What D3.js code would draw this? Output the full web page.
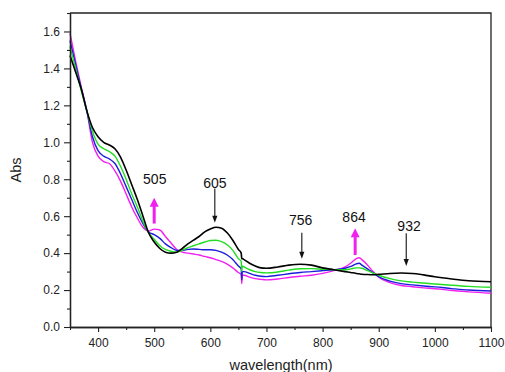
<!DOCTYPE html>
<html>
<head>
<meta charset="utf-8">
<script src="https://cdn.jsdelivr.net/npm/d3@7"></script>
<style>
  html, body { margin: 0; padding: 0; background: #fff; }
  svg { display: block; font-family: "Liberation Sans", Arial, sans-serif; }
</style>
</head>
<body>
<svg id="chart" width="505" height="372"></svg>
<script>
// ---- data ----
const wavelength = [350,360,370,380,390,400,410,420,430,440,450,460,470,480,490,500,510,520,530,540,550,560,570,580,590,600,610,620,630,640,650,655,656,657,660,670,680,690,700,720,740,760,780,800,820,840,850,860,865,870,880,890,900,920,940,960,980,1000,1030,1060,1100];

const absBlack = [1.47,1.38,1.29,1.17,1.08,1.03,1.00,0.985,0.965,0.92,0.85,0.77,0.69,0.60,0.51,0.46,0.425,0.405,0.40,0.405,0.425,0.45,0.47,0.49,0.515,0.53,0.54,0.535,0.51,0.47,0.42,0.40,0.37,0.37,0.365,0.345,0.33,0.32,0.318,0.325,0.335,0.34,0.335,0.32,0.31,0.30,0.295,0.29,0.288,0.286,0.284,0.283,0.285,0.29,0.292,0.29,0.282,0.272,0.26,0.25,0.245];

const absGreen = [1.52,1.40,1.28,1.17,1.06,0.99,0.965,0.95,0.925,0.87,0.80,0.72,0.65,0.57,0.51,0.475,0.44,0.42,0.41,0.405,0.415,0.43,0.44,0.45,0.46,0.468,0.47,0.462,0.445,0.415,0.37,0.355,0.30,0.33,0.325,0.31,0.30,0.295,0.293,0.298,0.308,0.315,0.316,0.313,0.31,0.31,0.315,0.32,0.32,0.318,0.305,0.292,0.28,0.262,0.25,0.243,0.238,0.233,0.226,0.22,0.215];

const absBlue = [1.55,1.42,1.29,1.17,1.03,0.955,0.925,0.91,0.885,0.83,0.76,0.69,0.62,0.56,0.515,0.50,0.48,0.45,0.43,0.415,0.415,0.42,0.422,0.42,0.418,0.418,0.415,0.405,0.39,0.365,0.33,0.315,0.255,0.30,0.30,0.29,0.28,0.275,0.273,0.28,0.288,0.295,0.30,0.305,0.31,0.318,0.328,0.342,0.345,0.335,0.315,0.293,0.272,0.248,0.235,0.228,0.222,0.217,0.208,0.20,0.195];

const absMagenta = [1.59,1.44,1.30,1.17,1.00,0.925,0.895,0.885,0.845,0.79,0.72,0.65,0.59,0.54,0.52,0.53,0.525,0.49,0.455,0.42,0.405,0.40,0.395,0.39,0.382,0.375,0.365,0.355,0.34,0.32,0.295,0.285,0.235,0.28,0.28,0.27,0.262,0.258,0.255,0.26,0.268,0.275,0.28,0.29,0.305,0.325,0.345,0.37,0.375,0.365,0.335,0.30,0.27,0.24,0.225,0.218,0.212,0.207,0.198,0.19,0.183];

const seriesNames = ["magenta","blue","green","black"];
const seriesValues = [absMagenta, absBlue, absGreen, absBlack];
const seriesColors = ["#f020f0","#1c1cdc","#22dd22","#000000"];

const xTicks = [400,500,600,700,800,900,1000,1100];
const xMinorTicks = [350,450,550,650,750,850,950,1050];
const yTicks = [0,0.2,0.4,0.6,0.8,1.0,1.2,1.4,1.6];
const yMinorTicks = [0.1,0.3,0.5,0.7,0.9,1.1,1.3,1.5,1.7];

// annotations: label, label position (nm, abs), arrow from/to abs at nm, type
const annLabels = ["505","605","756","864","932"];
const annTextWl = [501,608,761,856,954];
const annTextAbs = [0.80,0.78,0.58,0.594,0.545];
const annArrowWl = [500,608,763,858,949];
const annArrowFrom = [0.56,0.75,0.51,0.39,0.507];
const annArrowTo = [0.70,0.565,0.37,0.535,0.33];
const annColor = ["magenta","black","black","magenta","black"];

// ---- chart ----
const W = 505, H = 372;
const margin = {left: 70, right: 14, top: 13, bottom: 45};
const svg = d3.select("#chart");

const x = d3.scaleLinear().domain([350, 1100]).range([margin.left, W - margin.right]);
const y = d3.scaleLinear().domain([0, 1.7]).range([H - margin.bottom, margin.top]);

// frame (top & right)
svg.append("path")
  .attr("d", `M${x(350)},${y(1.7)}H${x(1100)}V${y(0)}`)
  .attr("fill", "none").attr("stroke", "#222").attr("stroke-width", 1.3);

// curves
const line = d3.line().x((d, i) => x(wavelength[i])).y(d => y(d)).curve(d3.curveMonotoneX);
svg.append("g").selectAll("path").data(seriesValues).join("path")
  .attr("d", d => line(d))
  .attr("fill", "none")
  .attr("stroke", (d, i) => seriesColors[i])
  .attr("stroke-width", (d, i) => i === 3 ? 1.6 : 1.4)
  .attr("stroke-linejoin", "round");

// axes
const axisStyle = g => {
  g.selectAll(".domain").attr("stroke", "#222").attr("stroke-width", 1.3);
  g.selectAll(".tick line").attr("stroke", "#222").attr("stroke-width", 1.1);
  g.selectAll("text").attr("font-size", 12).attr("fill", "#222")
    .attr("font-family", "'Liberation Sans', Arial, sans-serif");
};

svg.append("g").attr("transform", `translate(0,${y(0)})`)
  .call(d3.axisBottom(x).tickValues(xMinorTicks).tickSize(3).tickSizeOuter(0).tickFormat(""))
  .call(axisStyle);
svg.append("g").attr("transform", `translate(0,${y(0)})`)
  .call(d3.axisBottom(x).tickValues(xTicks).tickSize(5).tickSizeOuter(0).tickPadding(6).tickFormat(d3.format("d")))
  .call(axisStyle);

svg.append("g").attr("transform", `translate(${x(350)},0)`)
  .call(d3.axisLeft(y).tickValues(yMinorTicks).tickSize(3).tickSizeOuter(0).tickFormat(""))
  .call(axisStyle);
svg.append("g").attr("transform", `translate(${x(350)},0)`)
  .call(d3.axisLeft(y).tickValues(yTicks).tickSize(6).tickSizeOuter(0).tickPadding(4).tickFormat(d3.format(".1f")))
  .call(axisStyle);

// axis titles
svg.append("text")
  .attr("x", (x(350) + x(1100)) / 2 + 0.5).attr("y", 370)
  .attr("text-anchor", "middle").attr("font-size", 14.5).attr("fill", "#222")
  .text("wavelength(nm)");
svg.append("text")
  .attr("transform", `translate(21,${y(0.85)}) rotate(-90)`)
  .attr("text-anchor", "middle").attr("font-size", 14.5).attr("fill", "#222")
  .text("Abs");

// annotations
const ann = svg.append("g");
annLabels.forEach((lab, i) => {
  ann.append("text")
    .attr("x", x(annTextWl[i])).attr("y", y(annTextAbs[i]) + 5)
    .attr("text-anchor", "middle").attr("font-size", 14).attr("fill", "#111")
    .text(lab);
  const ax = x(annArrowWl[i]);
  const y0 = y(annArrowFrom[i]), y1 = y(annArrowTo[i]);
  const dir = y1 < y0 ? -1 : 1; // -1 = up
  const magenta = annColor[i] === "magenta";
  const headL = magenta ? 9 : 7, headW = magenta ? 4.5 : 2.6;
  const col = magenta ? "#f020f0" : "#111";
  ann.append("line")
    .attr("x1", ax).attr("x2", ax)
    .attr("y1", y0).attr("y2", y1 - dir * headL * 0.8)
    .attr("stroke", col).attr("stroke-width", magenta ? 3 : 1.1);
  ann.append("path")
    .attr("d", `M${ax},${y1}L${ax - headW},${y1 - dir * headL}L${ax + headW},${y1 - dir * headL}Z`)
    .attr("fill", col);
});
</script>
</body>
</html>
